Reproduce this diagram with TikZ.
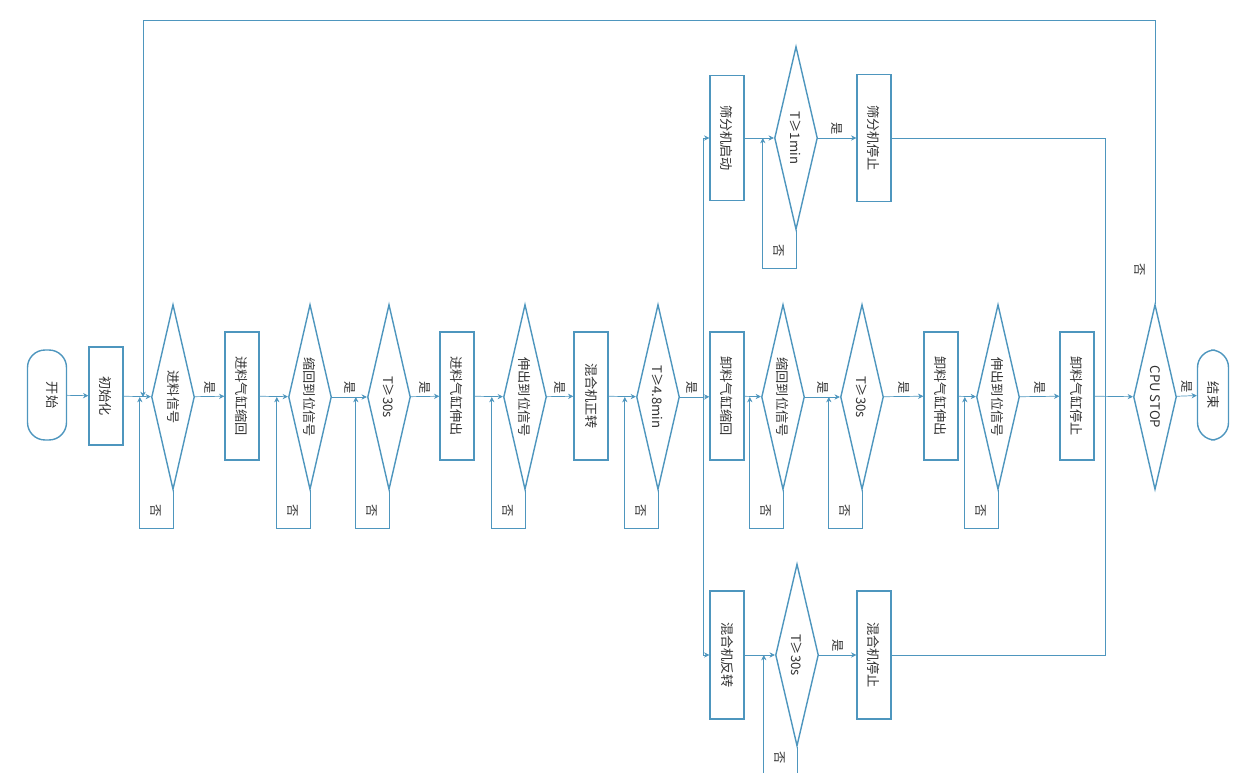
\documentclass[tikz,border=0pt]{standalone}
\usepackage{fontspec}
\setmainfont{Noto Sans CJK SC}
\usetikzlibrary{shapes.geometric,arrows.meta}
\definecolor{flow}{RGB}{78,150,190}
\newcommand{\vt}[1]{\rotatebox{-90}{\makebox[0pt]{#1}}}
\tikzset{
  box/.style={draw=flow, thick, fill=white, inner sep=0pt, minimum width=0.68cm, minimum height=2.56cm},
  dec/.style={diamond, draw=flow, thick, fill=white, inner sep=0pt, minimum width=0.86cm, minimum height=3.7cm},
  term/.style={draw=flow, thick, rounded corners=0.35cm, inner sep=0pt, minimum width=0.62cm, minimum height=1.8cm},
  line/.style={draw=flow, thin},
  arr/.style={line, -{Stealth[length=3pt,width=3pt]}},
  yes/.style={above, text=black!80, font=\fontsize{7}{8}\selectfont, inner sep=5pt},
  no/.style={text=black!80, font=\fontsize{7}{8}\selectfont}
}
\begin{document}
\begin{tikzpicture}[x=0.02cm, y=-0.02cm, font=\fontsize{7.5}{9}\selectfont, text=black!80]
        \useasboundingbox (0,0) rectangle (1246,773);
        % main row
        \node[term, minimum width=0.78cm] (start) at (47,395) {\hspace*{0.2cm}\vt{开始}};
        \node[box, minimum height=1.96cm] (init) at (106,396) {\vt{初始化}};
        \node[dec] (d1) at (173,397) {\vt{进料信号}};
        \node[box] (p1) at (242,396) {\vt{进料气缸缩回}};
        \node[dec] (d2) at (310,397) {\vt{缩回到位信号}};
        \node[dec] (d3) at (389,397) {\vt{T≥30s}};
        \node[box] (p2) at (457,396) {\vt{进料气缸伸出}};
        \node[dec] (d4) at (525,397) {\vt{伸出到位信号}};
        \node[box] (p3) at (591,396) {\vt{混合机正转}};
        \node[dec] (d5) at (658,397) {\vt{T≥4.8min}};
        \coordinate (fork) at (703,397);
        \node[box] (p4) at (727,396) {\vt{卸料气缸缩回}};
        \node[dec] (d6) at (783,397) {\vt{缩回到位信号}};
        \node[dec] (d7) at (862,397) {\vt{T≥30s}};
        \node[box] (p5) at (941,396) {\vt{卸料气缸伸出}};
        \node[dec] (d8) at (998,397) {\vt{伸出到位信号}};
        \node[box] (p6) at (1077,396) {\vt{卸料气缸停止}};
        \coordinate (join) at (1105,397);
        \node[dec] (d9) at (1155,397) {\vt{CPU STOP}};
        \node[term] (stop) at (1213,395) {\vt{结束}};
        % upper branch
        \node[box, minimum height=2.5cm] (p7) at (727,138) {\vt{筛分机启动}};
        \node[dec, minimum height=3.66cm] (d10) at (796,138) {\vt{T≥1min}};
        \node[box, minimum height=2.54cm] (p8) at (874,138) {\vt{筛分机停止}};
        % lower branch
        \node[box, minimum height=2.56cm] (p9) at (727,655) {\vt{混合机反转}};
        \node[dec, minimum height=3.64cm] (d11) at (797,655) {\vt{T≥30s}};
        \node[box, minimum height=2.56cm] (p10) at (874,655) {\vt{混合机停止}};
        \coordinate (back) at (143,20);
        \coordinate (entry) at (143,397);
        % connectors
        \draw[arr] (start) -- (init);
        \draw[arr] (init) -- (d1);
        \draw[arr] (d1) -- node[yes]{\vt{是}} (p1);
        \draw[arr] (p1) -- (d2);
        \draw[arr] (d2) -- node[yes]{\vt{是}} (d3);
        \draw[arr] (d3) -- node[yes]{\vt{是}} (p2);
        \draw[arr] (p2) -- (d4);
        \draw[arr] (d4) -- node[yes]{\vt{是}} (p3);
        \draw[arr] (p3) -- (d5);
        \draw[line] (d5) -- node[yes]{\vt{是}} (fork);
        \draw[arr] (fork) -- (p4);
        \draw[arr] (fork) |- (p7);
        \draw[arr] (fork) |- (p9);
        \draw[arr] (p4) -- (d6);
        \draw[arr] (d6) -- node[yes]{\vt{是}} (d7);
        \draw[arr] (d7) -- node[yes]{\vt{是}} (p5);
        \draw[arr] (p5) -- (d8);
        \draw[arr] (d8) -- node[yes]{\vt{是}} (p6);
        \draw[arr] (p6) -- (d9);
        \draw[arr] (d9) -- node[yes]{\vt{是}} (stop);
        \draw[arr] (p7) -- (d10);
        \draw[arr] (d10) -- node[yes]{\vt{是}} (p8);
        \draw[arr] (p9) -- (d11);
        \draw[arr] (d11) -- node[yes]{\vt{是}} (p10);
        \draw[line] (p8) -| (join);
        \draw[line] (p10) -| (join);
        \draw[arr] (d9.north) |- node[no, pos=0.06, left=2pt]{\vt{否}} (back) -- (entry);
        % "no" loops
        \foreach \d in {d1,d2,d3,d4,d5,d6,d7,d8,d10}
          \draw[arr] (\d.south) -- node[no, pos=0.55, left=3pt]{\vt{否}} ++(0,38) -| ([xshift=-2.2mm]\d.west);
        \draw[arr] (d11.south) -- node[no, pos=0.3, left=3pt]{\vt{否}} ++(0,38) -| ([xshift=-2.2mm]d11.west);
\end{tikzpicture}
\end{document}
